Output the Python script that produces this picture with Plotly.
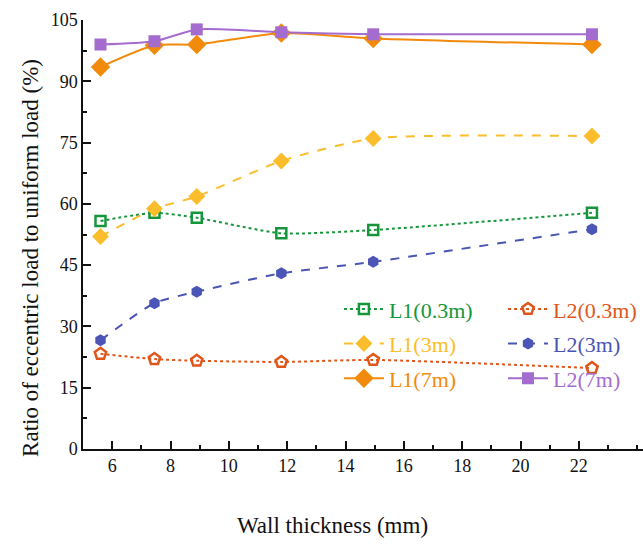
import plotly.graph_objects as go

thickness = [5.6, 7.45, 8.9, 11.8, 14.95, 22.45]

l1_03 = [55.8, 57.8, 56.6, 52.8, 53.6, 57.8]
l2_03 = [23.3, 22.0, 21.6, 21.3, 21.8, 19.8]
l1_3 = [52.0, 58.8, 61.8, 70.5, 76.0, 76.6]
l2_3 = [26.6, 35.7, 38.5, 43.0, 45.8, 53.8]
l1_7 = [93.5, 98.8, 99.0, 101.8, 100.5, 99.0]
l2_7 = [99.0, 99.8, 102.7, 102.0, 101.5, 101.5]

series = [
    ("L1(0.3m)", l1_03, "#16963a", "dot", "square-open", 10, "legend"),
    ("L2(0.3m)", l2_03, "#e0561a", "dot", "pentagon-open", 12, "legend2"),
    ("L1(3m)", l1_3, "#fbbd2b", "dash", "diamond", 13, "legend"),
    ("L2(3m)", l2_3, "#4a55b5", "dash", "hexagon", 12, "legend2"),
    ("L1(7m)", l1_7, "#f28a0c", "solid", "diamond", 15, "legend"),
    ("L2(7m)", l2_7, "#a56cd0", "solid", "square", 12, "legend2"),
]

fig = go.Figure()
for name, vals, color, dash, sym, size, lg in series:
    fig.add_trace(go.Scatter(
        x=thickness, y=vals, mode="lines+markers",
        name=f"<span style='color:{color}'>{name}</span>",
        legend=lg, legendgroup=name,
        line=dict(color=color, width=2, dash=dash, shape="spline", smoothing=0.6),
        marker=dict(symbol=sym, size=size, color=color,
                    line=dict(color=color, width=2.5 if "open" in sym else 0)),
    ))

font_fam = "Liberation Serif"
leg_common = dict(orientation="v", yanchor="top", xanchor="left",
                  font=dict(family=font_fam, size=22),
                  bgcolor="rgba(0,0,0,0)", tracegroupgap=3, itemwidth=40)
fig.update_layout(
    width=643, height=544,
    margin=dict(l=83, r=0, t=20, b=95),
    paper_bgcolor="white", plot_bgcolor="white",
    font=dict(family=font_fam, size=18, color="#111"),
    legend=dict(x=0.457, y=0.375, **leg_common),
    legend2=dict(x=0.75, y=0.375, **leg_common),
    showlegend=True,
    annotations=[
        dict(text="Ratio of eccentric load to uniform load (%)",
             xref="paper", yref="paper", x=-0.095, y=0.445,
             xanchor="center", yanchor="middle", textangle=-90, showarrow=False,
             font=dict(family=font_fam, size=23, color="#111")),
        dict(text="Wall thickness (mm)",
             xref="paper", yref="paper", x=0.446, y=-0.178,
             xanchor="center", yanchor="middle", showarrow=False,
             font=dict(family=font_fam, size=23, color="#111")),
    ],
)
fig.update_xaxes(
    range=[5, 24.2], tickvals=[6, 8, 10, 12, 14, 16, 18, 20, 22],
    ticks="inside", ticklen=8, tickwidth=1.5, tickcolor="#111",
    minor=dict(dtick=1, tick0=5, ticks="inside", ticklen=4, tickwidth=1.5, tickcolor="#111"),
    showline=True, linecolor="#111", linewidth=1.5, showgrid=False, zeroline=False,
    tickfont=dict(size=18),
)
fig.update_yaxes(
    range=[0, 105], dtick=15, tick0=0,
    ticks="inside", ticklen=8, tickwidth=1.5, tickcolor="#111",
    minor=dict(dtick=7.5, tick0=0, ticks="inside", ticklen=4, tickwidth=1.5, tickcolor="#111"),
    showline=True, linecolor="#111", linewidth=1.5, showgrid=False, zeroline=False,
    tickfont=dict(size=18),
)

fig.write_html("out.html")
